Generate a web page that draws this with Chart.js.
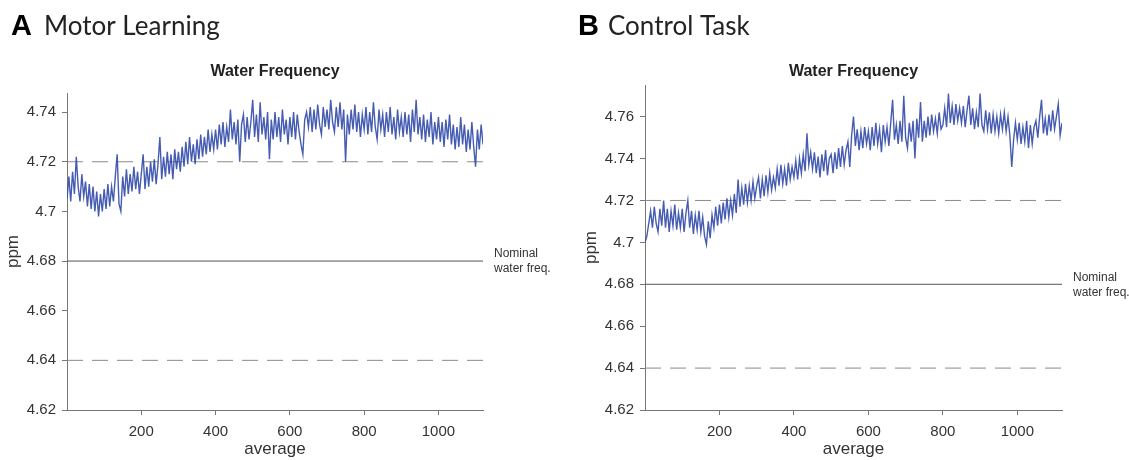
<!DOCTYPE html>
<html>
<head>
<meta charset="utf-8">
<script src="https://cdn.jsdelivr.net/npm/chart.js@4.4.1/dist/chart.umd.min.js"></script>
<style>
  body { margin: 0; background: #fff; }
  #wrap { position: relative; width: 1129px; height: 460px; }
  canvas { position: absolute; left: 0; top: 0; }
</style>
</head>
<body>
<div id="wrap">
  <canvas id="chartA" width="1129" height="460"></canvas>
  <canvas id="chartB" width="1129" height="460"></canvas>
</div>
<script>
// --- data (ppm), one value every 5 averages
var averageStep = 5;
var xTicks = [200, 400, 600, 800, 1000];
var yTicks = [4.62, 4.64, 4.66, 4.68, 4.7, 4.72, 4.74, 4.76];
var nominalFreq = 4.68;
var limitLines = [4.72, 4.64];

var motorLearning = [
  4.705, 4.714, 4.704, 4.716, 4.707, 4.722, 4.710, 4.704, 4.715, 4.706,
  4.712, 4.702, 4.711, 4.701, 4.710, 4.700, 4.708, 4.698, 4.707, 4.700,
  4.709, 4.701, 4.711, 4.702, 4.710, 4.704, 4.714, 4.723, 4.703, 4.700,
  4.714, 4.706, 4.717, 4.707, 4.715, 4.708, 4.718, 4.709, 4.716, 4.707,
  4.715, 4.723, 4.709, 4.718, 4.710, 4.720, 4.712, 4.721, 4.711, 4.719,
  4.730, 4.713, 4.722, 4.714, 4.724, 4.715, 4.723, 4.713, 4.725, 4.717,
  4.724, 4.716, 4.726, 4.718, 4.728, 4.719, 4.730, 4.720, 4.727, 4.719,
  4.729, 4.721, 4.731, 4.722, 4.730, 4.723, 4.733, 4.724, 4.731, 4.725,
  4.733, 4.725, 4.735, 4.727, 4.736, 4.726, 4.734, 4.728, 4.741, 4.729,
  4.736, 4.727, 4.737, 4.720, 4.735, 4.739, 4.728, 4.738, 4.729, 4.736,
  4.745, 4.730, 4.739, 4.728, 4.744, 4.731, 4.738, 4.729, 4.740, 4.721,
  4.737, 4.729, 4.740, 4.730, 4.738, 4.728, 4.741, 4.731, 4.737, 4.727,
  4.738, 4.730, 4.740, 4.729, 4.739, 4.732, 4.727, 4.723, 4.737, 4.740,
  4.734, 4.742, 4.732, 4.741, 4.733, 4.743, 4.735, 4.731, 4.742, 4.734,
  4.741, 4.733, 4.745, 4.736, 4.732, 4.742, 4.734, 4.744, 4.733, 4.741,
  4.720, 4.739, 4.731, 4.741, 4.733, 4.743, 4.732, 4.740, 4.730, 4.739,
  4.733, 4.742, 4.731, 4.740, 4.732, 4.744, 4.734, 4.729, 4.741, 4.733,
  4.739, 4.730, 4.740, 4.732, 4.742, 4.731, 4.738, 4.729, 4.741, 4.732,
  4.738, 4.730, 4.740, 4.731, 4.739, 4.728, 4.741, 4.732, 4.745, 4.731,
  4.738, 4.729, 4.739, 4.728, 4.737, 4.730, 4.740, 4.727, 4.736, 4.729,
  4.738, 4.728, 4.736, 4.726, 4.737, 4.729, 4.739, 4.727, 4.735, 4.725,
  4.734, 4.726, 4.738, 4.727, 4.735, 4.724, 4.733, 4.725, 4.736, 4.726,
  4.718, 4.733, 4.725, 4.735, 4.727
];

var controlTask = [
  4.700, 4.703, 4.709, 4.715, 4.707, 4.717, 4.709, 4.705, 4.716, 4.708,
  4.720, 4.707, 4.716, 4.705, 4.715, 4.708, 4.718, 4.706, 4.714, 4.707,
  4.716, 4.705, 4.714, 4.720, 4.707, 4.715, 4.704, 4.713, 4.706, 4.715,
  4.705, 4.712, 4.703, 4.699, 4.710, 4.702, 4.713, 4.707, 4.717, 4.708,
  4.718, 4.709, 4.719, 4.711, 4.721, 4.712, 4.720, 4.713, 4.723, 4.714,
  4.730, 4.717, 4.726, 4.718, 4.728, 4.719, 4.727, 4.720, 4.729, 4.721,
  4.727, 4.731, 4.721, 4.730, 4.722, 4.732, 4.724, 4.733, 4.725, 4.731,
  4.726, 4.735, 4.727, 4.737, 4.728, 4.735, 4.727, 4.738, 4.730, 4.736,
  4.731, 4.739, 4.730, 4.740, 4.733, 4.742, 4.734, 4.752, 4.737, 4.743,
  4.735, 4.743, 4.733, 4.741, 4.731, 4.742, 4.734, 4.744, 4.732, 4.740,
  4.742, 4.733, 4.743, 4.735, 4.745, 4.736, 4.746, 4.737, 4.744, 4.748,
  4.736, 4.751, 4.760, 4.746, 4.754, 4.744, 4.753, 4.745, 4.755, 4.747,
  4.753, 4.744, 4.755, 4.746, 4.757, 4.747, 4.754, 4.743, 4.756, 4.748,
  4.755, 4.746, 4.757, 4.768, 4.749, 4.756, 4.747, 4.758, 4.748, 4.770,
  4.750, 4.745, 4.757, 4.748, 4.758, 4.740, 4.759, 4.750, 4.767, 4.748,
  4.758, 4.750, 4.760, 4.751, 4.761, 4.753, 4.759, 4.752, 4.762, 4.754,
  4.756, 4.764, 4.755, 4.771, 4.757, 4.765, 4.756, 4.766, 4.758, 4.764,
  4.757, 4.765, 4.755, 4.763, 4.770, 4.756, 4.764, 4.754, 4.762, 4.755,
  4.771, 4.756, 4.753, 4.763, 4.754, 4.762, 4.752, 4.761, 4.753, 4.760,
  4.752, 4.761, 4.754, 4.762, 4.753, 4.760, 4.751, 4.736, 4.749, 4.757,
  4.749, 4.757, 4.747, 4.755, 4.748, 4.758, 4.745, 4.756, 4.747, 4.755,
  4.758, 4.750, 4.760, 4.768, 4.752, 4.759, 4.751, 4.761, 4.753, 4.763,
  4.754, 4.760, 4.766, 4.751, 4.757
];

var xMax = 1120;
var axisFont = '"Liberation Sans", Arial, sans-serif';

// panel letters, headings, plot title and the nominal label
var panelText = {
  id: 'panelText',
  afterDraw: function (chart, args, opts) {
    var ctx = chart.ctx;
    var area = chart.chartArea;
    ctx.save();
    ctx.textBaseline = 'alphabetic';
    ctx.textAlign = 'left';
    ctx.fillStyle = '#000';
    ctx.font = 'bold 29px ' + axisFont;
    ctx.fillText(opts.letter, opts.letterX, 35);
    ctx.fillStyle = '#222';
    ctx.font = '26px Lato, "Open Sans", sans-serif';
    ctx.fillText(opts.heading, opts.headingX, 35);

    ctx.fillStyle = '#222';
    ctx.font = 'bold 16px ' + axisFont;
    ctx.textAlign = 'center';
    ctx.textBaseline = 'middle';
    ctx.fillText('Water Frequency', (area.left + area.right) / 2, 72);

    var yNom = chart.scales.y.getPixelForValue(nominalFreq);
    ctx.textAlign = 'left';
    ctx.font = '12px ' + axisFont;
    ctx.fillStyle = '#333';
    ctx.fillText('Nominal', area.right + 11, yNom - 7);
    ctx.fillText('water freq.', area.right + 11, yNom + 8);
    ctx.restore();
  }
};

function hLine(level, color, dash) {
  return {
    data: [{ x: 0, y: level }, { x: xMax, y: level }],
    borderColor: color,
    borderWidth: 1,
    borderDash: dash,
    pointRadius: 0,
    order: 2
  };
}

function makeChart(id, values, yMax, pad, text) {
  var points = values.map(function (v, i) { return { x: i * averageStep, y: v }; });
  var datasets = [{
    data: points,
    borderColor: 'rgba(50, 74, 168, 0.9)',
    borderWidth: 1.4,
    pointRadius: 0,
    tension: 0,
    order: 1
  }];
  limitLines.forEach(function (l) { datasets.push(hLine(l, '#8a8a8a', [16, 9])); });
  datasets.push(hLine(nominalFreq, '#555', []));

  return new Chart(document.getElementById(id), {
    type: 'line',
    data: { datasets: datasets },
    plugins: [panelText],
    options: {
      responsive: false,
      animation: false,
      layout: { padding: pad },
      plugins: {
        legend: { display: false },
        tooltip: { enabled: false },
        panelText: text
      },
      scales: {
        x: {
          type: 'linear',
          min: 0,
          max: xMax,
          afterBuildTicks: function (s) {
            s.ticks = xTicks.map(function (v) { return { value: v }; });
          },
          afterFit: function (s) { s.height = 50; },
          grid: { display: true, drawOnChartArea: false, tickLength: 5, color: '#777' },
          border: { display: true, color: '#777' },
          ticks: {
            padding: 8,
            color: '#333',
            font: { family: axisFont, size: 15 },
            maxRotation: 0,
            callback: function (v) { return String(v); }
          },
          title: {
            display: true,
            text: 'average',
            color: '#333',
            padding: { top: 0, bottom: 0 },
            font: { family: axisFont, size: 17 }
          }
        },
        y: {
          min: 4.62,
          max: yMax,
          afterBuildTicks: function (s) {
            s.ticks = yTicks.filter(function (v) { return v <= yMax; })
              .map(function (v) { return { value: v }; });
          },
          afterFit: function (s) { s.width = 67; },
          grid: { display: true, drawOnChartArea: false, tickLength: 5, color: '#777' },
          border: { display: true, color: '#777' },
          ticks: {
            padding: 6,
            color: '#333',
            font: { family: axisFont, size: 15 },
            callback: function (v) { return String(+v.toFixed(2)); }
          },
          title: {
            display: true,
            text: 'ppm',
            color: '#333',
            padding: { top: 3, bottom: 0 },
            font: { family: axisFont, size: 17 }
          }
        }
      }
    }
  });
}

makeChart('chartA', motorLearning, 4.7477,
  { left: 0, top: 93, right: 1129 - 483, bottom: 0 },
  { letter: 'A', letterX: 11, heading: 'Motor Learning', headingX: 44 });

makeChart('chartB', controlTask, 4.7751,
  { left: 578, top: 85, right: 1129 - 1062, bottom: 0 },
  { letter: 'B', letterX: 578, heading: 'Control Task', headingX: 608 });
</script>
</body>
</html>
